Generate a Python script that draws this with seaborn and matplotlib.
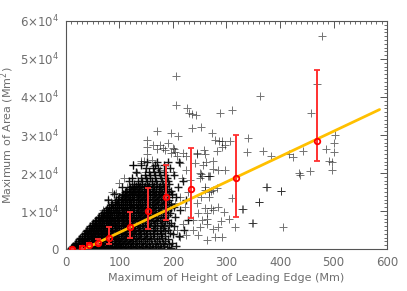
#!/usr/bin/env python3
# -*- coding: utf-8 -*-

import numpy as np
import pandas as pd
import matplotlib
matplotlib.use('Agg')
import matplotlib.pyplot as plt
from matplotlib.ticker import MultipleLocator, FuncFormatter
import seaborn as sns

# dense part of the cloud, read row by row (area in 1e3 Mm^2, heights in Mm)
cloud_rows = [0.2, 0.9, 1.7, 2.6, 3.4, 4.3, 5.1, 6.0, 6.8, 7.7, 8.5, 9.4, 10.2, 11.1,
              11.9, 12.8, 13.6, 14.5, 15.3, 16.2, 17.0, 17.9, 18.7, 19.6, 20.4,
              21.3, 22.1, 23.0]
cloud_heights = [
    [9, 12, 16, 20, 25, 30, 35, 41, 47, 53, 60, 67, 74, 82, 90, 98, 107, 116, 126, 137, 150, 163, 178, 196],
    [13, 15, 21, 27, 33, 39, 45, 52, 58, 65, 72, 79, 87, 95, 103, 112, 121, 131, 142, 155, 168, 184, 205],
    [19, 25, 31, 37, 44, 50, 57, 63, 70, 77, 85, 93, 101, 110, 119, 129, 140, 152, 166, 181, 199],
    [24, 30, 36, 43, 49, 56, 63, 70, 77, 84, 92, 100, 108, 117, 126, 136, 147, 159, 173, 190],
    [30, 36, 42, 48, 55, 61, 68, 75, 82, 90, 98, 106, 115, 124, 134, 145, 157, 170, 186, 212],
    [35, 41, 47, 54, 60, 67, 74, 81, 88, 96, 104, 112, 121, 131, 141, 152, 164, 178, 195],
    [40, 46, 53, 59, 66, 73, 80, 87, 95, 103, 111, 120, 129, 139, 150, 162, 175, 190, 220],
    [45, 52, 58, 65, 72, 79, 86, 94, 102, 110, 118, 127, 137, 147, 158, 170, 184, 201],
    [51, 57, 64, 71, 78, 85, 92, 100, 108, 116, 125, 134, 144, 155, 167, 180, 196],
    [56, 63, 70, 77, 84, 91, 99, 107, 115, 123, 132, 142, 152, 163, 175, 189, 228],
    [62, 69, 76, 83, 90, 98, 106, 114, 122, 131, 140, 150, 161, 172, 185, 203],
    [68, 75, 82, 89, 97, 105, 113, 121, 130, 139, 148, 158, 169, 181, 195],
    [74, 81, 88, 96, 104, 112, 120, 128, 137, 146, 156, 166, 177, 190, 214],
    [80, 88, 95, 103, 111, 119, 127, 135, 144, 154, 164, 175, 187, 201],
    [87, 95, 102, 110, 118, 126, 134, 143, 152, 162, 172, 184, 197],
    [78, 94, 102, 110, 118, 126, 134, 142, 151, 160, 170, 181, 193, 224],
    [100, 108, 116, 124, 132, 140, 149, 158, 168, 178, 190, 206],
    [90, 107, 115, 123, 131, 139, 148, 157, 166, 176, 187, 199],
    [113, 121, 129, 137, 146, 155, 164, 174, 185, 197],
    [104, 120, 128, 136, 145, 154, 163, 173, 184, 210],
    [127, 135, 143, 152, 161, 171, 181, 193],
    [118, 134, 142, 151, 160, 169, 179, 190, 218],
    [123, 141, 149, 158, 167, 177, 188],
    [148, 157, 166, 175, 186, 202],
    [131, 155, 164, 174, 184],
    [150, 162, 172, 195],
    [126, 141, 166, 183],
    [152, 171, 190, 211],
]

# in-between rows of the dense core
core_rows = [0.5, 1.3, 2.2, 3.0, 3.9, 4.7, 5.6, 6.4, 7.3, 8.1, 9.0, 9.8, 10.7,
             11.5, 12.4, 13.2, 14.1, 15.0, 15.8, 16.6]
core_heights = [
    [11, 18, 23, 28, 33, 38, 44, 50, 56, 63, 70, 78, 86, 94, 102, 111, 121, 132, 144, 158, 172, 188],
    [17, 24, 30, 35, 42, 48, 55, 61, 68, 75, 83, 91, 99, 107, 116, 126, 136, 148, 161, 176, 193],
    [22, 28, 34, 40, 47, 53, 60, 67, 74, 81, 89, 97, 105, 114, 123, 133, 144, 156, 170, 186],
    [27, 33, 39, 46, 52, 59, 66, 73, 80, 87, 95, 103, 112, 121, 130, 141, 152, 165, 180],
    [33, 39, 45, 51, 58, 65, 72, 79, 86, 94, 102, 110, 119, 128, 139, 150, 163, 177, 200],
    [38, 44, 50, 57, 64, 70, 77, 85, 92, 100, 108, 117, 126, 136, 146, 158, 171, 186],
    [43, 49, 56, 62, 69, 76, 84, 91, 99, 107, 115, 124, 134, 144, 155, 167, 181],
    [48, 55, 61, 68, 75, 82, 90, 98, 106, 114, 123, 132, 142, 152, 164, 177, 193],
    [54, 60, 67, 74, 81, 88, 96, 104, 112, 120, 129, 138, 148, 159, 171, 185],
    [59, 66, 73, 80, 87, 95, 103, 111, 119, 127, 136, 146, 156, 168, 181],
    [65, 72, 79, 86, 94, 101, 109, 117, 126, 135, 144, 154, 165, 177, 191],
    [71, 78, 85, 93, 100, 108, 116, 125, 134, 143, 153, 163, 174, 186],
    [77, 84, 92, 99, 107, 115, 124, 132, 141, 151, 161, 172, 183, 197],
    [84, 91, 99, 106, 114, 122, 131, 139, 148, 158, 168, 180, 192],
    [91, 98, 106, 114, 122, 130, 138, 147, 156, 166, 177, 189],
    [97, 105, 112, 120, 128, 137, 145, 154, 164, 174, 185],
    [104, 111, 119, 127, 135, 144, 153, 162, 172, 182],
    [110, 118, 126, 134, 142, 151, 160, 169, 180, 192],
    [117, 125, 132, 141, 149, 158, 168, 178, 189],
    [124, 131, 139, 148, 156, 165, 175, 186],
]

# sparse events around the cloud (height Mm, area Mm^2)
sparse_height = [478, 469, 457, 363, 311, 287, 253, 272, 340, 503, 501, 486, 501, 492,
                 497, 497, 443, 456, 437, 425, 417, 384, 369, 339, 435, 375, 402, 360,
                 311, 329, 349, 315, 405, 305, 289, 275, 285, 278, 292, 263, 296, 275,
                 263, 264, 271, 285, 271, 267, 283, 260, 255, 269, 285, 297, 275, 253,
                 261, 275, 278, 286, 292, 297, 306, 291, 283, 258, 205, 205, 227, 230,
                 236, 243, 171, 197, 210, 235, 151, 151, 163, 171, 181, 191, 201, 151,
                 203, 224, 244, 126, 141, 123, 266, 250, 268, 260, 275, 268, 253, 244,
                 247, 254, 250, 260, 238, 219, 213, 225, 238, 207, 176, 185, 200, 197,
                 207, 219, 244, 260, 257, 241, 225, 213, 160, 145, 132, 148, 163, 176,
                 200, 216, 232, 250, 229, 213, 198, 204, 222, 247, 263, 78, 84, 93,
                 109, 125, 140, 100, 69, 62, 115, 87, 330, 348, 361, 374, 402]
sparse_area = [56100, 43400, 35700, 40300, 36500, 35700, 32100, 30600, 29300, 30000,
               28000, 26400, 25600, 23100, 22900, 20900, 25700, 20600, 19500, 24200,
               24900, 24600, 25800, 25600, 20000, 16400, 15400, 12300, 13400, 10500,
               6900, 5800, 5700, 7800, 7300, 5400, 5700, 3200, 3200, 2500, 9800, 10300,
               7800, 9600, 10900, 11100, 15400, 13800, 16000, 15600, 19100, 19100,
               20700, 20900, 21100, 19800, 22800, 23300, 28800, 28300, 28300, 27300,
               28300, 26800, 25700, 26100, 45400, 37900, 37100, 35900, 35600, 35300,
               31000, 30600, 29700, 31800, 28700, 26900, 27400, 26400, 26600, 27800,
               26200, 25100, 25500, 24600, 24900, 22000, 23100, 18800, 19100, 20000,
               19100, 16400, 15600, 14900, 13800, 12000, 9400, 7600, 5800, 10700, 7600,
               6700, 3200, 3600, 5000, 5000, 27500, 26000, 26600, 25300, 24400, 25300,
               25300, 24900, 22200, 22600, 20900, 22600, 23500, 23100, 20000, 20400,
               21800, 20900, 20400, 18700, 18200, 18700, 15100, 13800, 14200, 12000,
               11100, 3600, 6700, 13100, 12500, 14700, 18700, 22200, 22600, 17300,
               10300, 8500, 16400, 15100, 10500, 6900, 12300, 16400, 15300]

# binned means with error bars
bin_height = [12, 30, 44, 59, 81, 120, 154, 187, 234, 317, 470]
bin_area = [0, 300, 1000, 1700, 3000, 5800, 10000, 13800, 15800, 18700, 28400]
bin_low = [0, 0, 1000, 1100, 1300, 3000, 5400, 7600, 8200, 8500, 23100]
bin_high = [300, 700, 1600, 2600, 5800, 9700, 16000, 22000, 26700, 29900, 47100]

# linear fit
fit_height = [34, 586]
fit_area = [0, 36700]

dense_x = [h for row in cloud_heights for h in row] + [h for row in core_heights for h in row]
dense_y = ([a * 1000 for a, row in zip(cloud_rows, cloud_heights) for _ in row]
           + [a * 1000 for a, row in zip(core_rows, core_heights) for _ in row])
dense_df = pd.DataFrame({'height': dense_x, 'area': dense_y})
sparse_df = pd.DataFrame({'height': sparse_height, 'area': sparse_area})

sns.set_theme(style='white')
plt.rcParams['font.family'] = ['DejaVu Sans']
text_color = '#6e6e6e'

fig = plt.figure(figsize=(4.07, 2.91), dpi=100)
ax = fig.add_axes([0.162, 0.144, 0.789, 0.784])

sns.scatterplot(data=dense_df, x='height', y='area', marker='+', color='black',
                s=40, linewidth=1.0, alpha=0.9, ax=ax, legend=False)
sns.scatterplot(data=sparse_df, x='height', y='area', marker='+', color='black',
                s=30, linewidth=0.7, alpha=0.55, ax=ax, legend=False)

sns.lineplot(x=fit_height, y=fit_area, color='#ffc000', linewidth=2, ax=ax, zorder=3)

bin_area_arr = np.array(bin_area)
yerr = [bin_area_arr - np.array(bin_low), np.array(bin_high) - bin_area_arr]
ax.errorbar(bin_height, bin_area, yerr=yerr, fmt='o', color='red', ecolor='#ff3030',
            elinewidth=1.4, capsize=2, capthick=1.2, markersize=4,
            markerfacecolor='none', markeredgewidth=1.3, zorder=4)

ax.set_xlim(0, 600)
ax.set_ylim(0, 60000)
ax.xaxis.set_major_locator(MultipleLocator(100))
ax.xaxis.set_minor_locator(MultipleLocator(10))
ax.yaxis.set_major_locator(MultipleLocator(10000))
ax.yaxis.set_minor_locator(MultipleLocator(1000))


def area_fmt(v, pos):
    if v == 0:
        return '0'
    return f'{int(round(v / 1e4))}×10$^{{4}}$'


ax.yaxis.set_major_formatter(FuncFormatter(area_fmt))
ax.tick_params(which='both', direction='in', top=True, right=True,
               colors='#555555', labelcolor=text_color, labelsize=8.5)
ax.tick_params(which='major', length=5, width=0.7, pad=5)
ax.tick_params(which='minor', length=2.5, width=0.6)
for spine in ax.spines.values():
    spine.set_color('#555555')
    spine.set_linewidth(0.8)

ax.set_xlabel('Maximum of Height of Leading Edge (Mm)', color=text_color, fontsize=8, labelpad=3)
ax.set_ylabel('Maximum of Area (Mm$^2$)', color=text_color, fontsize=8)
ax.yaxis.set_label_coords(-0.155, 0.5)

plt.savefig('out.png', dpi=100)
plt.close()
